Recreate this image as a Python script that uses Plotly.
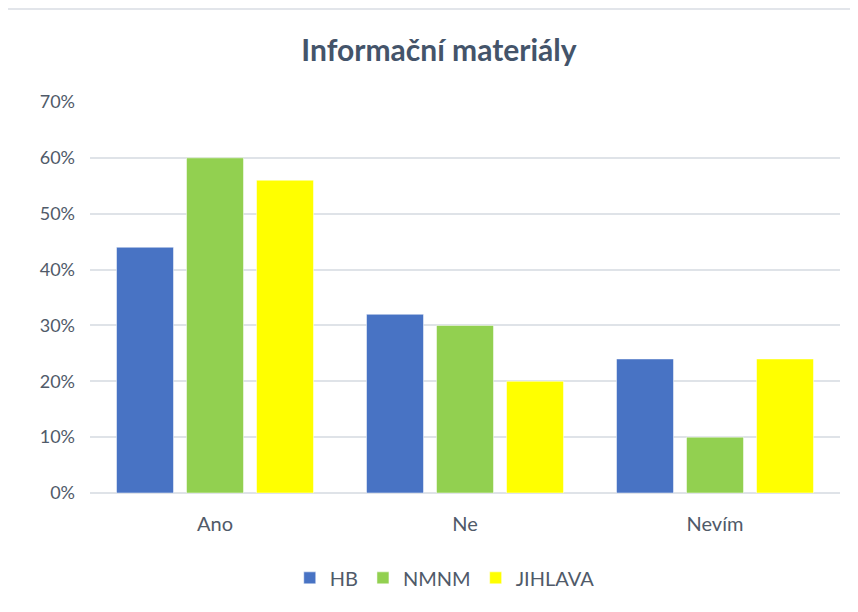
import plotly.graph_objects as go

categories = ["Ano", "Ne", "Nevím"]
series_names = ["HB", "NMNM", "JIHLAVA"]
hb = [0.44, 0.32, 0.24]
nmnm = [0.60, 0.30, 0.10]
jihlava = [0.56, 0.20, 0.24]
colors = ["#4873c4", "#92d050", "#ffff00"]
tick_vals = [0, 0.1, 0.2, 0.3, 0.4, 0.5, 0.6, 0.7]
tick_text = ["0%", "10%", "20%", "30%", "40%", "50%", "60%", "70%"]

fig = go.Figure()
for name, vals, col in zip(series_names, [hb, nmnm, jihlava], colors):
    fig.add_trace(go.Bar(
        x=categories, y=vals, name=name,
        marker=dict(color=col, line=dict(color="white", width=0.5)),
    ))

font_family = "Lato, Open Sans, sans-serif"
text_color = "#505a69"
fig.update_layout(
    width=858, height=612,
    paper_bgcolor="white", plot_bgcolor="white",
    margin=dict(l=82, r=26, t=94, b=127),
    barmode="group", bargap=0.16, bargroupgap=0.186,
    title=dict(text="<b>Informační materiály</b>", x=(439 - 8) / 858, xanchor="center",
               y=1 - 42 / 612, yref="container", yanchor="middle",
               font=dict(family=font_family, size=30, color="#44546a")),
    font=dict(family=font_family, size=20, color=text_color),
    legend=dict(orientation="h", x=0.473, xanchor="center", y=-0.217, yanchor="middle",
                font=dict(size=20, color=text_color), itemwidth=30, traceorder="normal"),
    showlegend=True,
)
fig.update_yaxes(range=[0, 0.7], tickvals=tick_vals, ticktext=tick_text,
                 tickfont=dict(size=18, color=text_color),
                 showgrid=True, gridcolor="#dfe3e8", gridwidth=1.5,
                 zeroline=True, zerolinecolor="#dfe3e8", zerolinewidth=1.5,
                 showline=False, ticks="", ticklen=0, ticklabelstandoff=14, automargin=False)
fig.update_xaxes(showgrid=False, showline=False, ticks="", ticklabelstandoff=17,
                 tickfont=dict(size=20, color=text_color), automargin=False)
fig.add_shape(type="rect", xref="paper", yref="paper",
              x0=-84/750, x1=1 + 60/750, y0=-1, y1=1 + 93/391,
              line=dict(color="#d9dde3", width=1.5), fillcolor="rgba(0,0,0,0)", layer="below")
fig.write_html("out.html")
